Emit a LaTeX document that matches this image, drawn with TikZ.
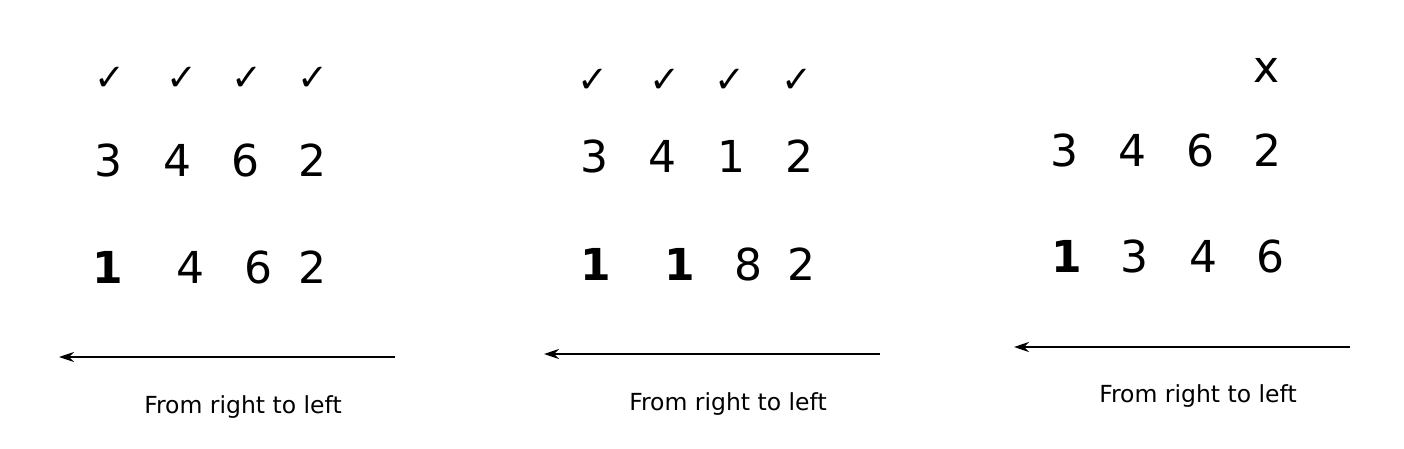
\documentclass[tikz,border=0pt]{standalone}
\usepackage{fontspec}
\setmainfont{DejaVu Sans}
\usetikzlibrary{arrows.meta}
\tikzset{
  dig/.style={inner sep=0pt, anchor=base, font=\fontsize{44}{50}\selectfont},
  chk/.style={inner sep=0pt, anchor=base, font=\fontsize{37}{42}\selectfont},
  captext/.style={inner sep=0pt, anchor=base, font=\fontsize{23.5}{28}\selectfont},
  dirarrow/.style={line width=1.6pt, -{Stealth[length=15pt,width=10pt,inset=5pt]}},
}
\begin{document}
\begin{tikzpicture}[x=1pt,y=-1pt]
\useasboundingbox (0,0) rectangle (1404,449);
% Panel 1
\foreach \x [count=\i] in {110,182,247,313} \node[chk] (a\i) at (\x,91) {✓};
\node[dig] (a31) at (108,177) {3};
\node[dig] (a32) at (177,177) {4};
\node[dig] (a33) at (245,177) {6};
\node[dig] (a34) at (312,177) {2};
\node[dig] (a41) at (108,283) {\bfseries 1};
\node[dig] (a42) at (190,283) {4};
\node[dig] (a43) at (258,283) {6};
\node[dig] (a44) at (312,283) {2};
\coordinate (as) at (395,357);
\coordinate (ae) at (59,357);
\draw[dirarrow] (as) -- (ae);
\node[captext] (at) at (243,413) {From right to left};
% Panel 2
\foreach \x [count=\i] in {593,665,730,797} \node[chk] (b\i) at (\x,93) {✓};
\node[dig] (b31) at (594,173) {3};
\node[dig] (b32) at (662,173) {4};
\node[dig] (b33) at (731,173) {1};
\node[dig] (b34) at (799,173) {2};
\node[dig] (b41) at (596,280) {\bfseries 1};
\node[dig] (b42) at (680,280) {\bfseries 1};
\node[dig] (b43) at (748,280) {8};
\node[dig] (b44) at (801,280) {2};
\coordinate (bs) at (880,354);
\coordinate (be) at (544,354);
\draw[dirarrow] (bs) -- (be);
\node[captext] (bt) at (728,410) {From right to left};
% Panel 3
\node[dig] (cx) at (1266,83) {x};
\node[dig] (c31) at (1064,167) {3};
\node[dig] (c32) at (1132,167) {4};
\node[dig] (c33) at (1200,167) {6};
\node[dig] (c34) at (1267,167) {2};
\node[dig] (c41) at (1067,272) {\bfseries 1};
\node[dig] (c42) at (1134,272) {3};
\node[dig] (c43) at (1203,272) {4};
\node[dig] (c44) at (1270,272) {6};
\coordinate (cs) at (1350,347);
\coordinate (ce) at (1014,347);
\draw[dirarrow, line width=2.6pt] (cs) -- (ce);
\node[captext] (ct) at (1198,402) {From right to left};
\end{tikzpicture}
\end{document}
